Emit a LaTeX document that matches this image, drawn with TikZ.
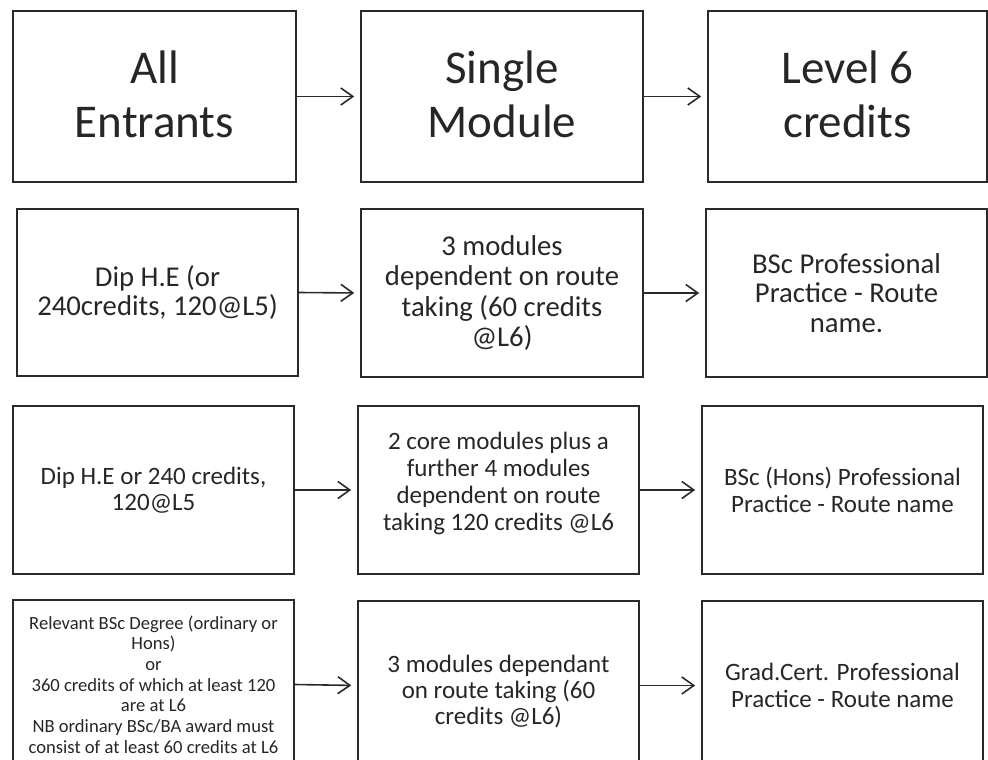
\documentclass[tikz,border=0pt]{standalone}
\usepackage{fontspec}
\setmainfont{Carlito}
\usetikzlibrary{arrows.meta}
\definecolor{edgecol}{HTML}{2A2A2A}
\definecolor{txtcol}{HTML}{262626}
\tikzset{
  box/.style={draw=edgecol, line width=1.6pt, inner sep=0pt, align=center, text=txtcol},
  rowone/.style={box, minimum height=171pt, font=\fontsize{47}{54}\selectfont},
  rowtwo/.style={box, minimum height=168pt, font=\fontsize{28.7}{29.5}\selectfont},
  rowthree/.style={box, minimum height=168pt, font=\fontsize{25}{26.5}\selectfont},
  rowfour/.style={box, minimum height=169pt, font=\fontsize{25}{27.5}\selectfont},
  txt/.style={inner sep=0pt, align=center, text=txtcol},
  flow/.style={draw=edgecol, line width=1.6pt, shorten >=6pt, -{Straight Barb[length=12pt,width=17pt]}}
}
\begin{document}
\begin{tikzpicture}[x=1pt,y=-1pt]
\useasboundingbox (0,0) rectangle (988,760);
\clip (0,0) rectangle (988,760);
% row 1
\node[rowone, minimum width=283pt] (a1) at (154.5,96.5) {};
\node[rowone, minimum width=282pt] (b1) at (502,96.5) {};
\node[rowone, minimum width=279pt] (c1) at (847.5,96.5) {};
\node[txt, font=\fontsize{47}{54}\selectfont] (ta1) at (154.5,94) {All\\Entrants};
\node[txt, font=\fontsize{47}{54}\selectfont] (tb1) at (502,94) {Single\\Module};
\node[txt, font=\fontsize{47}{54}\selectfont] (tc1) at (847.5,94) {Level 6\\credits};
% row 2
\node[rowtwo, minimum width=281pt, minimum height=167pt] (a2) at (157.5,292.5) {Dip H.E (or\\240credits, 120@L5)};
\node[rowtwo, minimum width=282pt, font=\fontsize{28.7}{30.5}\selectfont] (b2) at (502,293) {3 modules\\dependent on route\\taking (60 credits\\@L6)};
\node[rowtwo, minimum width=281pt] (c2) at (846.5,293) {BSc Professional\\Practice - Route\\name.};
% row 3
\node[rowthree, minimum width=281pt] (a3) at (153.5,490) {Dip H.E or 240 credits,\\120@L5};
\node[rowthree, minimum width=281pt] (b3) at (498.5,490) {};
\node[txt, font=\fontsize{25}{27}\selectfont] (tb3) at (498.5,483.5) {2 core modules plus a\\further 4 modules\\dependent on route\\taking 120 credits @L6};
\node[rowthree, minimum width=281pt] (c3) at (842.5,490) {BSc (Hons) Professional\\Practice - Route name};
% row 4
\node[rowfour, minimum width=281pt, font=\fontsize{18.6}{20.7}\selectfont] (a4) at (153.5,684.5) {Relevant BSc Degree (ordinary or\\Hons)\\or\\360 credits of which at least 120\\are at L6\\NB ordinary BSc/BA award must\\consist of at least 60 credits at L6};
\node[rowfour, minimum width=281pt] (b4) at (498.5,685.5) {};
\node[txt, font=\fontsize{25}{26}\selectfont] (tb4) at (498.5,692) {3 modules dependant\\on route taking (60\\credits @L6)};
\node[rowfour, minimum width=281pt] (c4) at (842.5,685.5) {Grad.Cert. Professional\\Practice - Route name};
% connectors
\draw[flow] (a1.east) -- (b1.west);
\draw[flow] (b1.east) -- (c1.west);
\draw[flow] (a2.east) -- (b2.west);
\draw[flow] (b2.east) -- (c2.west);
\draw[flow] (a3.east) -- (b3.west);
\draw[flow] (b3.east) -- (c3.west);
\draw[flow] (a4.east) -- (b4.west);
\draw[flow] (b4.east) -- (c4.west);
\end{tikzpicture}
\end{document}
